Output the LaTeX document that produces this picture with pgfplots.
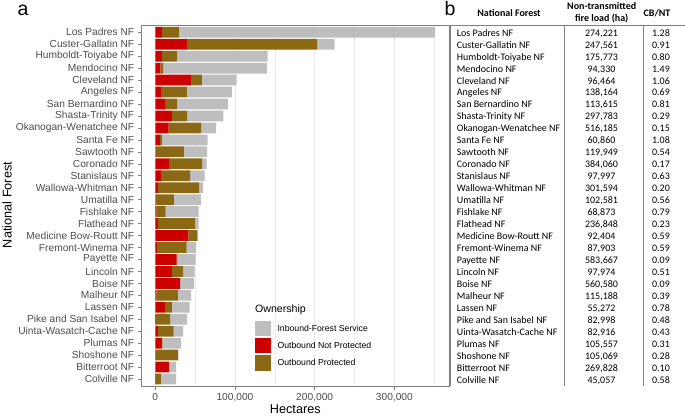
\documentclass[border=0pt]{standalone}
\usepackage{pgfplots}
\pgfplotsset{compat=1.18}
\usepackage{pgfplotstable}
\usepackage{fontspec}
\setmainfont{Liberation Sans}
\newfontfamily\calibri{Carlito}
\definecolor{barGray}{HTML}{BEBEBE}
\definecolor{barRed}{HTML}{CD0000}
\definecolor{barBrown}{HTML}{8B6914}
\definecolor{tickGray}{HTML}{4D4D4D}
\definecolor{gridGray}{HTML}{EBEBEB}
\definecolor{frameGray}{HTML}{7F7F7F}
\definecolor{tabGray}{HTML}{808080}

% y: 1 = Los Padres (top) ... 30 = Colville (bottom)
% red = Outbound Not Protected, prot = Outbound Protected, inb = Inbound-Forest Service (ha)
\pgfplotstableread{
y red prot inb
1 8400 21300 321300
2 39700 163300 22000
3 8400 18800 113800
4 6300 3700 130000
5 45500 13000 43500
6 7500 32200 56300
7 12500 15100 63900
8 20900 19200 45500
9 16700 40900 18800
10 5800 2600 57200
11 0 35900 29300
12 17500 41400 5400
13 7100 36800 17900
14 3300 51800 5100
15 0 23400 34200
16 1300 11700 41300
17 3300 46800 4200
18 41400 11200 1300
19 2100 37200 12100
20 26700 900 22900
21 20900 14200 14200
22 31300 0 17600
23 1300 27100 16700
24 12500 8400 22100
25 800 18000 21300
26 3300 19700 12100
27 8400 400 23800
28 200 28600 200
29 17100 400 8800
30 800 6300 19200
}\datatable

\begin{document}
\begin{tikzpicture}[x=1pt,y=1pt]
\useasboundingbox (0,0) rectangle (685,415);
\begin{axis}[
  at={(141.7pt,28.8pt)}, anchor=south west,
  scale only axis, width=307.3pt, height=361.1pt,
  xmin=-17000, xmax=368500, ymin=0.4, ymax=30.6, y dir=reverse,
  xbar stacked, bar width=0.9,
  xtick={0,100000,200000,300000},
  xticklabels={0,{100,000},{200,000},{300,000}},
  minor xtick={50000,150000,250000,350000},
  xmajorgrids, xminorgrids,
  major grid style={gridGray, line width=0.55pt},
  minor grid style={gridGray, line width=0.35pt},
  ytick={1,...,30},
  yticklabels={Los Padres NF,Custer-Gallatin NF,Humboldt-Toiyabe NF,Mendocino NF,Cleveland NF,Angeles NF,San Bernardino NF,Shasta-Trinity NF,Okanogan-Wenatchee NF,Santa Fe NF,Sawtooth NF,Coronado NF,Stanislaus NF,Wallowa-Whitman NF,Umatilla NF,Fishlake NF,Flathead NF,Medicine Bow-Routt NF,Fremont-Winema NF,Payette NF,Lincoln NF,Boise NF,Malheur NF,Lassen NF,Pike and San Isabel NF,Uinta-Wasatch-Cache NF,Plumas NF,Shoshone NF,Bitterroot NF,Colville NF},
  axis line style={frameGray, line width=0.6pt},
  tick style={frameGray, line width=0.6pt},
  tick align=outside, major tick length=4pt, minor tick length=0pt,
  xtick pos=lower, ytick pos=left,
  ticklabel style={font=\fontsize{10.2}{12}\selectfont, text=tickGray},
  scaled x ticks=false,
]
\addplot[fill=barRed, draw=none] table[x=red, y=y]{\datatable};
\addplot[fill=barBrown, draw=none] table[x=prot, y=y]{\datatable};
\addplot[fill=barGray, draw=none] table[x=inb, y=y]{\datatable};
\end{axis}

% axis titles
\node[anchor=base, font=\fontsize{12.7}{14}\selectfont] at (295.3,1.5) {Hectares};
\node[anchor=base, rotate=90, font=\fontsize{12.7}{14}\selectfont] at (11.7,210) {National Forest};

% panel labels
\node[anchor=base west, inner sep=0pt, font=\fontsize{19.5}{22}\selectfont] at (17.5,399.3) {a};
\node[anchor=base west, inner sep=0pt, font=\fontsize{19.5}{22}\selectfont] at (444.5,399.3) {b};

% legend
\node[anchor=west, inner sep=0pt, font=\fontsize{10.6}{12}\selectfont] at (255,105) {Ownership};
\fill[barGray]  (255,78.7) rectangle (270.7,94.3);
\fill[barRed]   (255,61.7) rectangle (270.7,77.3);
\fill[barBrown] (255,44.3) rectangle (270.7,60);
\node[anchor=west, inner sep=0pt, font=\fontsize{8.7}{10}\selectfont] at (277.3,86.5) {Inbound-Forest Service};
\node[anchor=west, inner sep=0pt, font=\fontsize{8.7}{10}\selectfont] at (277.3,69.5) {Outbound Not Protected};
\node[anchor=west, inner sep=0pt, font=\fontsize{8.7}{10}\selectfont] at (277.3,52.2) {Outbound Protected};

% table
\draw[tabGray, line width=0.6pt] (447,390) -- (685,390);
\foreach \xx in {450,564,643} \draw[tabGray, line width=0.6pt] (\xx,390) -- (\xx,29);
\begin{scope}[every node/.style={inner sep=0pt, font=\calibri\bfseries\fontsize{10}{12}\selectfont}]
\node[anchor=base] at (509,398.5) {National Forest};
\node[anchor=base] at (601.7,405) {Non-transmitted};
\node[anchor=base] at (601.7,393.5) {fire load (ha)};
\node[anchor=base] at (657,398.5) {CB/NT};
\end{scope}
\begin{scope}[every node/.style={inner sep=0pt, font=\calibri\fontsize{10}{12}\selectfont}]
\foreach \n/\v/\r [count=\i] in {
 Los Padres NF/{274,221}/1.28,
 Custer-Gallatin NF/{247,561}/0.91,
 Humboldt-Toiyabe NF/{175,773}/0.80,
 Mendocino NF/{94,330}/1.49,
 Cleveland NF/{96,464}/1.06,
 Angeles NF/{138,164}/0.69,
 San Bernardino NF/{113,615}/0.81,
 Shasta-Trinity NF/{297,783}/0.29,
 Okanogan-Wenatchee NF/{516,185}/0.15,
 Santa Fe NF/{60,860}/1.08,
 Sawtooth NF/{119,949}/0.54,
 Coronado NF/{384,060}/0.17,
 Stanislaus NF/{97,997}/0.63,
 Wallowa-Whitman NF/{301,594}/0.20,
 Umatilla NF/{102,581}/0.56,
 Fishlake NF/{68,873}/0.79,
 Flathead NF/{236,848}/0.23,
 Medicine Bow-Routt NF/{92,404}/0.59,
 Fremont-Winema NF/{87,903}/0.59,
 Payette NF/{583,667}/0.09,
 Lincoln NF/{97,974}/0.51,
 Boise NF/{560,580}/0.09,
 Malheur NF/{115,188}/0.39,
 Lassen NF/{55,272}/0.78,
 Pike and San Isabel NF/{82,998}/0.48,
 Uinta-Wasatch-Cache NF/{82,916}/0.43,
 Plumas NF/{105,557}/0.31,
 Shoshone NF/{105,069}/0.28,
 Bitterroot NF/{269,828}/0.10,
 Colville NF/{45,057}/0.58}
{
 \pgfmathsetmacro\yb{415-36.2-(\i-1)*11.96}
 \node[anchor=base west] at (456.7,\yb) {\n};
 \node[anchor=base] at (601.5,\yb) {\v};
 \node[anchor=base] at (661,\yb) {\r};
}
\end{scope}
\end{tikzpicture}
\end{document}
